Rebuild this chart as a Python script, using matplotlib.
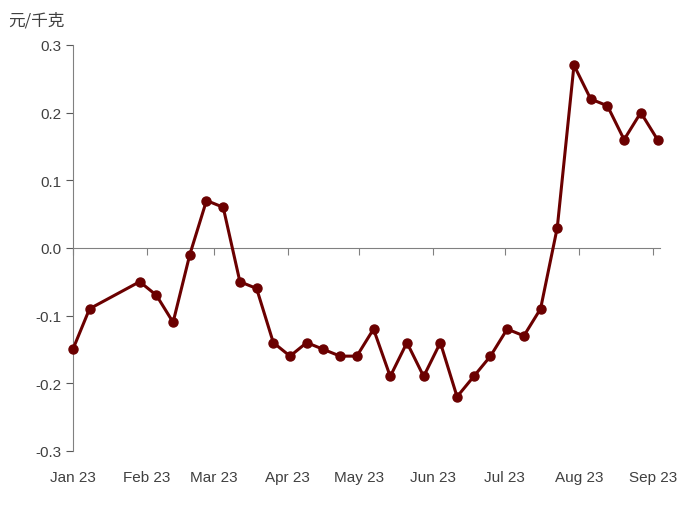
import matplotlib.pyplot as plt
import matplotlib.transforms as mtransforms
import numpy as np
import datetime as dt

plt.rcParams['font.family'] = ['Liberation Sans', 'Noto Sans CJK SC']

# weekly observations (weeks since 2023-01-01); weeks 2-3 missing (holiday)
weeks = [0, 1] + list(range(4, 36))
values = [-0.15, -0.09, -0.05, -0.07, -0.11, -0.01, 0.07, 0.06, -0.05, -0.06,
          -0.14, -0.16, -0.14, -0.15, -0.16, -0.16, -0.12, -0.19, -0.14, -0.19,
          -0.14, -0.22, -0.19, -0.16, -0.12, -0.13, -0.09, 0.03, 0.27, 0.22,
          0.21, 0.16, 0.20, 0.16]
dates = [dt.date(2023, 1, 1) + dt.timedelta(weeks=w) for w in weeks]
month_ticks = [dt.date(2023, m, 1) for m in range(1, 10)]
month_labels = [d.strftime('%b %y') for d in month_ticks]

fig = plt.figure(figsize=(6.81, 5.10), dpi=100)
ax = fig.add_axes([0.107, 0.114, 0.862, 0.796])
ax.plot(dates, values, color='#6B0000', lw=2.2, marker='o', ms=6.5, clip_on=False, zorder=3)

ax.set_xlim(dt.date(2023, 1, 1), dt.date(2023, 9, 4))
ax.set_ylim(-0.3, 0.3)
ax.set_yticks(np.arange(-0.3, 0.31, 0.1))
ax.set_yticklabels([f'{v:.1f}' for v in np.arange(-0.3, 0.31, 0.1)])
ax.tick_params(axis='y', direction='out', length=5, colors='#595959', labelsize=11, labelcolor='#404040')
for s in ['top', 'right']:
    ax.spines[s].set_visible(False)
ax.spines['left'].set_color('#808080')
ax.spines['bottom'].set_position(('data', 0))
ax.spines['bottom'].set_color('#808080')
ax.set_xticks(month_ticks)
ax.tick_params(axis='x', direction='out', length=5, colors='#808080', labelbottom=False)

trans = mtransforms.blended_transform_factory(ax.transData, ax.transAxes)
for d, lab in zip(month_ticks, month_labels):
    ax.text(d, -0.065, lab, transform=trans, ha='center', va='center', fontsize=11, color='#404040')

fig.text(0.012, 0.958, '元/千克', fontsize=12, color='#404040', family=['Noto Sans CJK SC'], va='center')

fig.savefig('out.png', dpi=100)
